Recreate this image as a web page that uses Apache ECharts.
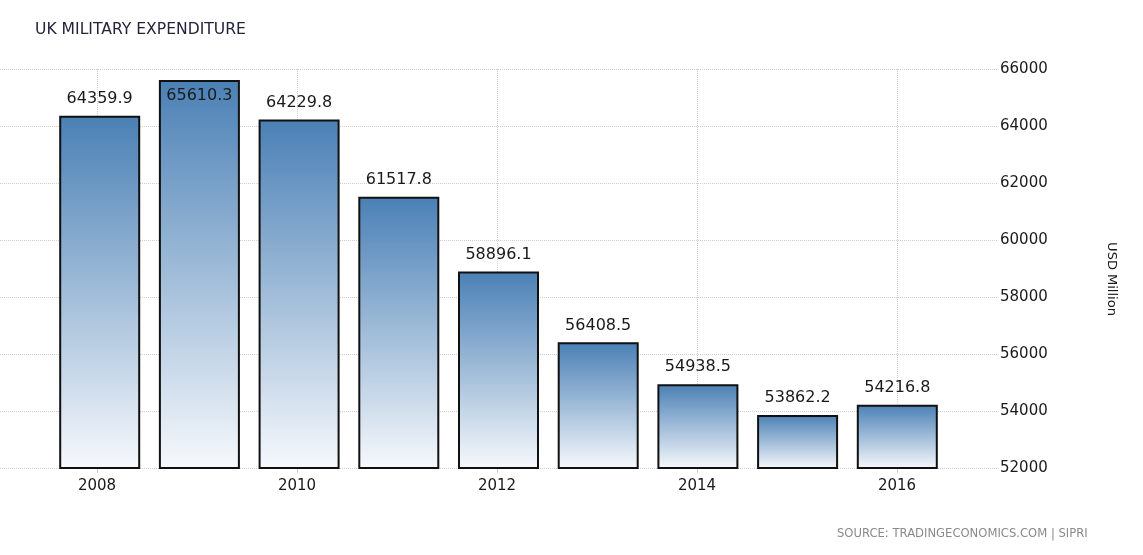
<!DOCTYPE html>
<html>
<head>
<meta charset="utf-8">
<script src="https://cdn.jsdelivr.net/npm/echarts@6/dist/echarts.min.js"></script>
<style>
html,body{margin:0;padding:0;background:#fff;}
#chart{width:1143px;height:555px;}
</style>
</head>
<body>
<div id="chart"></div>
<script>
var years = [2008, 2009, 2010, 2011, 2012, 2013, 2014, 2015, 2016];
var values = [64359.9, 65610.3, 64229.8, 61517.8, 58896.1, 56408.5, 54938.5, 53862.2, 54216.8];
var yMin = 52000, yMax = 66000, yStep = 2000;
var title = 'UK MILITARY EXPENDITURE';
var unitName = 'USD Million';
var sourceText = 'SOURCE: TRADINGECONOMICS.COM | SIPRI';

var chart = echarts.init(document.getElementById('chart'));
var FONT = 'DejaVu Sans';
var gridPos = {top: 69, bottom: 87};

var barData = years.map(function (y, i) {
  var item = {value: [y, values[i]]};
  if (values[i] > yMax - 1000) {
    item.label = {position: 'insideTop', distance: 8};
  }
  return item;
});

chart.setOption({
  backgroundColor: '#fff',
  animation: false,
  title: {
    text: title, left: 30, top: 17,
    textStyle: {fontFamily: FONT, fontSize: 15.6, fontWeight: 'normal', color: '#23233a'}
  },
  graphic: [
    {type: 'text', x: 1111, y: 279, rotation: -Math.PI / 2,
     style: {text: unitName, fontFamily: FONT, fontSize: 13, fill: '#1a1a1a', align: 'center', verticalAlign: 'middle'}},
    {type: 'text', x: 837, y: 534,
     style: {text: sourceText, fontFamily: FONT, fontSize: 11.6, fill: '#8a8a8a', verticalAlign: 'middle'}}
  ],
  grid: [
    {left: -3, right: 146, top: gridPos.top, bottom: gridPos.bottom},
    {left: 97, right: 246, top: gridPos.top, bottom: gridPos.bottom}
  ],
  xAxis: [
    {type: 'value', gridIndex: 0, min: years[0] - 1, max: years[years.length - 1] + 1, show: false},
    {type: 'value', gridIndex: 1, min: years[0], max: years[years.length - 1], interval: 2,
     axisLine: {show: false},
     axisTick: {show: true, length: 5, lineStyle: {color: '#c8c8c8'}},
     axisLabel: {fontFamily: FONT, fontSize: 15, color: '#1a1a1a', margin: 11, formatter: function (v) { return String(v); }},
     splitLine: {show: true, lineStyle: {type: 'dotted', color: '#cfcfcf', width: 1}}}
  ],
  yAxis: [
    {type: 'value', gridIndex: 0, position: 'right', min: yMin, max: yMax, interval: yStep,
     axisLine: {show: false}, axisTick: {show: false},
     axisLabel: {fontFamily: FONT, fontSize: 15, color: '#1a1a1a', margin: 3, formatter: function (v) { return String(v); }},
     splitLine: {show: true, lineStyle: {type: 'dotted', color: '#cfcfcf', width: 1}}},
    {type: 'value', gridIndex: 1, min: yMin, max: yMax, show: false}
  ],
  series: [{
    type: 'bar', xAxisIndex: 0, yAxisIndex: 0,
    barWidth: 81,
    data: barData,
    itemStyle: {
      color: new echarts.graphic.LinearGradient(0, 0, 0, 1, [
        {offset: 0, color: '#4a80b5'},
        {offset: 1, color: '#f7f9fc'}
      ]),
      borderColor: '#111',
      borderWidth: 2
    },
    label: {
      show: true, position: 'top', distance: 9,
      fontFamily: FONT, fontSize: 16, color: '#1a1a1a',
      formatter: function (p) { return p.value[1].toFixed(1); }
    }
  }]
});
</script>
</body>
</html>
